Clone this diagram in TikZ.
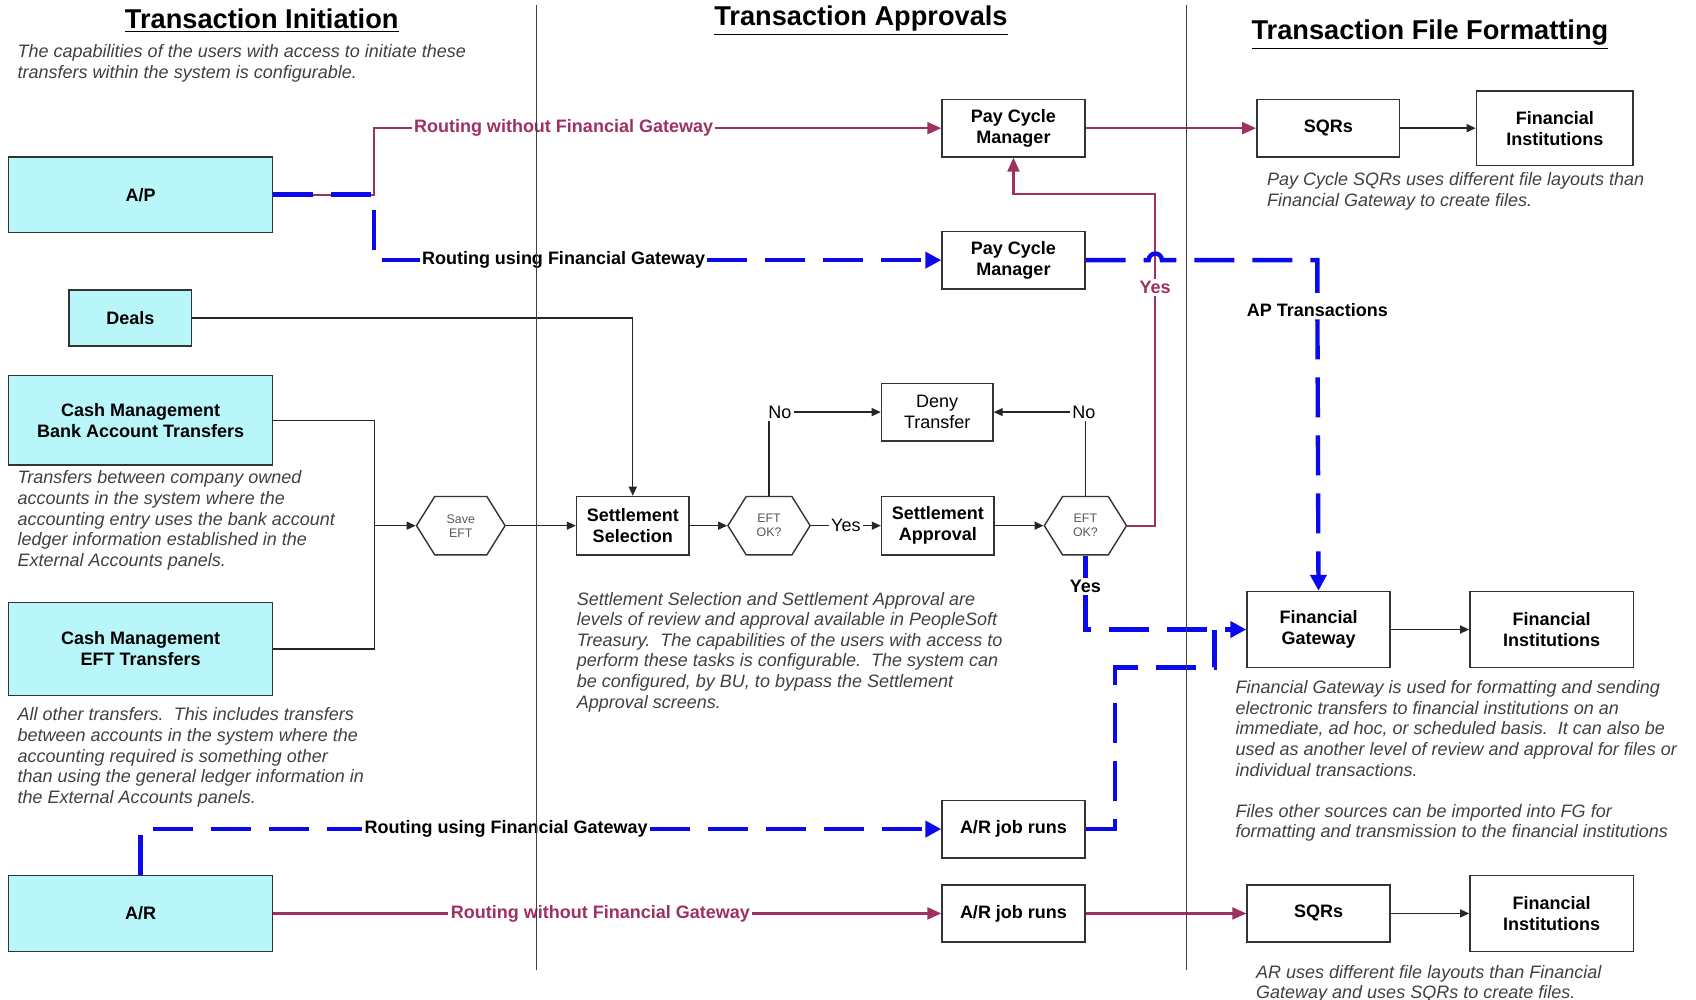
\documentclass[tikz,border=0pt]{standalone}
\usepackage{fontspec}
\setmainfont{Liberation Sans}
\usetikzlibrary{shapes.symbols,arrows.meta}

\definecolor{boxcyan}{RGB}{185,246,250}
\definecolor{routemag}{RGB}{158,48,98}
\definecolor{routeblue}{RGB}{10,10,235}
\definecolor{notegray}{RGB}{64,64,64}

\tikzset{
  srcbox/.style={draw=black!80, fill=boxcyan, line width=0.8pt, minimum width=132pt, align=center, font=\fontsize{9}{10.5}\selectfont\bfseries},
  stepbox/.style={draw=black!80, fill=white, line width=0.8pt, minimum width=71.4pt, minimum height=28.7pt, align=center, font=\fontsize{9}{10.5}\selectfont\bfseries},
  hexbox/.style={signal, signal to=west and east, signal pointer angle=116, draw=black!80, line width=0.7pt, minimum width=41.1pt, minimum height=29.2pt, inner sep=0pt, align=center, text=black!65, font=\fontsize{6.2}{7}\selectfont},
  note/.style={anchor=north west, inner sep=0pt, align=left, text=notegray, font=\fontsize{9}{10.3}\selectfont\itshape},
  headline/.style={font=\fontsize{13.6}{15}\selectfont\bfseries},
  lbl/.style={inner sep=1pt, font=\fontsize{9}{10.5}\selectfont},
  flow/.style={draw=black!85, line width=0.7pt},
  flowarr/.style={flow, -{Triangle[length=4.5pt,width=4pt]}},
  mag/.style={draw=routemag, line width=1.1pt},
  magarr/.style={mag, -{Triangle[length=7pt,width=6pt]}},
  blu/.style={draw=routeblue, line width=2.2pt, dash pattern=on 20pt off 9pt},
  bluarr/.style={blu, -{Triangle[length=8pt,width=8pt]}},
  sep/.style={draw=black!75, line width=0.7pt}
}

\begin{document}
\begin{tikzpicture}[x=0.5408pt, y=-0.5408pt]
\useasboundingbox (0,0) rectangle (1568,924);

% headings
\node[headline] (hinit) at (242,19) {\underline{Transaction Initiation}};
\node[headline] (happr) at (796,19) {\underline{Transaction Approvals}};
\node[headline] (hform) at (1322,32) {\underline{Transaction File Formatting}};

% sources
\node[srcbox, minimum height=37.9pt] (ap) at (130,180) {A/P};
\node[srcbox, minimum width=61.1pt, minimum height=28.1pt] (deals) at (120.5,294) {Deals};
\node[srcbox, minimum height=44.9pt] (cmbank) at (130,388.5) {Cash Management\\Bank Account Transfers};
\node[srcbox, minimum height=46.5pt] (cmeft) at (130,600) {Cash Management\\EFT Transfers};
\node[srcbox, minimum height=37.9pt] (ar) at (130,844.5) {A/R};

% approval steps
\node[stepbox] (pcmtop) at (937,118.5) {Pay Cycle\\Manager};
\node[stepbox] (pcmfg) at (937,240.5) {Pay Cycle\\Manager};
\node[stepbox] (arfg) at (937,766.5) {A/R job runs};
\node[stepbox] (arsqr) at (937,844.5) {A/R job runs};
\node[stepbox, minimum width=56.2pt, minimum height=29.2pt] (selection) at (585,486) {Settlement\\Selection};
\node[stepbox, minimum width=56.2pt, minimum height=29.2pt] (approval) at (867,486) {Settlement\\Approval};
\node[stepbox, minimum width=55.7pt, font=\fontsize{9}{10.5}\selectfont] (deny) at (866.5,381) {Deny\\Transfer};
\node[hexbox, minimum width=44.3pt] (saveeft) at (426,486) {Save\\EFT};
\node[hexbox] (eftok1) at (711,486) {EFT\\OK?};
\node[hexbox] (eftok2) at (1003.5,486) {EFT\\OK?};

% file formatting
\node[stepbox] (sqrtop) at (1228,118.5) {SQRs};
\node[stepbox, minimum width=78.4pt, minimum height=37.3pt] (fitop) at (1437.5,118.5) {Financial\\Institutions};
\node[stepbox, minimum height=37.9pt] (gateway) at (1219,582) {Financial\\Gateway};
\node[stepbox, minimum width=81.7pt, minimum height=37.9pt] (fimid) at (1434.5,582) {Financial\\Institutions};
\node[stepbox] (sqrbot) at (1219,844.5) {SQRs};
\node[stepbox, minimum width=81.7pt, minimum height=37.9pt] (fibot) at (1434.5,844.5) {Financial\\Institutions};

% notes
\node[note] (ninit) at (16,41) {The capabilities of the users with access to initiate these\\transfers within the system is configurable.};
\node[note] (nbank) at (16,435) {Transfers between company owned\\accounts in the system where the\\accounting entry uses the bank account\\ledger information established in the\\External Accounts panels.};
\node[note] (neft) at (16,654) {All other transfers.\ \ This includes transfers\\between accounts in the system where the\\accounting required is something other\\than using the general ledger information in\\the External Accounts panels.};
\node[note] (nsettle) at (533,547) {Settlement Selection and Settlement Approval are\\levels of review and approval available in PeopleSoft\\Treasury.\ \ The capabilities of the users with access to\\perform these tasks is configurable.\ \ The system can\\be configured, by BU, to bypass the Settlement\\Approval screens.};
\node[note] (nsqr) at (1171,159) {Pay Cycle SQRs uses different file layouts than\\Financial Gateway to create files.};
\node[note] (ngate) at (1142,629) {Financial Gateway is used for formatting and sending\\electronic transfers to financial institutions on an\\immediate, ad hoc, or scheduled basis.\ \ It can also be\\used as another level of review and approval for files or\\individual transactions.\\[10.3pt]Files other sources can be imported into FG for\\formatting and transmission to the financial institutions};
\node[note] (narsqr) at (1161,892) {AR uses different file layouts than Financial\\Gateway and uses SQRs to create files.};

% connector labels
\node[lbl, text=routemag, font=\fontsize{9}{10.5}\selectfont\bfseries] (nofg1) at (521,118.5) {Routing without Financial Gateway};
\node[lbl, font=\fontsize{9}{10.5}\selectfont\bfseries] (withfg1) at (521,240.5) {Routing using Financial Gateway};
\node[lbl, font=\fontsize{9}{10.5}\selectfont\bfseries] (aptrans) at (1218,287) {AP Transactions};
\node[lbl, text=routemag, font=\fontsize{9}{10.5}\selectfont\bfseries] (yesmag) at (1068,266) {Yes};
\node[lbl] (noleft) at (721,381) {No};
\node[lbl] (noright) at (1002,381) {No};
\node[lbl] (yesmid) at (782,486) {Yes};
\node[lbl, font=\fontsize{9}{10.5}\selectfont\bfseries] (yesblue) at (1003.5,542) {Yes};
\node[lbl, font=\fontsize{9}{10.5}\selectfont\bfseries] (withfg2) at (468,766.5) {Routing using Financial Gateway};
\node[lbl, text=routemag, font=\fontsize{9}{10.5}\selectfont\bfseries] (nofg2) at (555,844.5) {Routing without Financial Gateway};

\coordinate (apsplit) at (346,180);
\coordinate (cmjoin) at (346,486);
\coordinate (hop) at (1062,240.5);
\coordinate (apturn) at (1218,240.5);
\coordinate (magturn) at (1068,179);
\coordinate (arup) at (1031,617);
\coordinate (arover) at (1123,617);
\coordinate (fgjoin) at (1123,582);

% routing without financial gateway
\draw[mag] (ap.east) -- (apsplit) |- (nofg1.west);
\draw[magarr] (nofg1.east) -- (pcmtop.west);
\draw[magarr] (pcmtop.east) -- (sqrtop.west);
\draw[mag] (eftok2.east) -| (yesmag.south);
\draw[magarr] (yesmag.north) -- (magturn) -| (pcmtop.south);
\draw[mag] (ar.east) -- (nofg2.west);
\draw[magarr] (nofg2.east) -- (arsqr.west);
\draw[magarr] (arsqr.east) -- (sqrbot.west);

% routing using financial gateway
\draw[blu] (ap.east) -- (apsplit) |- (withfg1.west);
\draw[bluarr] (withfg1.east) -- (pcmfg.west);
\draw[blu] (pcmfg.east) -- (hop) arc[start angle=180, end angle=0, radius=3.3pt] -- (apturn) -- (aptrans.north);
\draw[bluarr] (aptrans.south) -- (gateway.north);
\draw[blu] (eftok2.south) -- (yesblue.north);
\draw[bluarr] (yesblue.south) |- (gateway.west);
\draw[blu] (arfg.east) -| (arup) -- (arover) -- (fgjoin);
\draw[blu] (ar.north) |- (withfg2.west);
\draw[bluarr] (withfg2.east) -- (arfg.west);

% treasury flow
\draw[flowarr] (deals.east) -| (selection.north);
\draw[flow] (cmbank.east) -| (cmjoin);
\draw[flow] (cmeft.east) -| (cmjoin);
\draw[flowarr] (cmjoin) -- (saveeft.west);
\draw[flowarr] (saveeft.east) -- (selection.west);
\draw[flowarr] (selection.east) -- (eftok1.west);
\draw[flow] (eftok1.east) -- (yesmid.west);
\draw[flowarr] (yesmid.east) -- (approval.west);
\draw[flowarr] (approval.east) -- (eftok2.west);
\draw[flow] (eftok1.north) -- (eftok1.north |- noleft.south);
\draw[flowarr] (noleft.east) -- (deny.west);
\draw[flow] (eftok2.north) -- (eftok2.north |- noright.south);
\draw[flowarr] (noright.west) -- (deny.east);
\draw[flowarr] (sqrtop.east) -- (fitop.west);
\draw[flowarr] (gateway.east) -- (fimid.west);
\draw[flowarr] (sqrbot.east) -- (fibot.west);

% lane separators
\draw[sep] (496,5) -- (496,897);
\draw[sep] (1097,5) -- (1097,897);
\end{tikzpicture}
\end{document}
